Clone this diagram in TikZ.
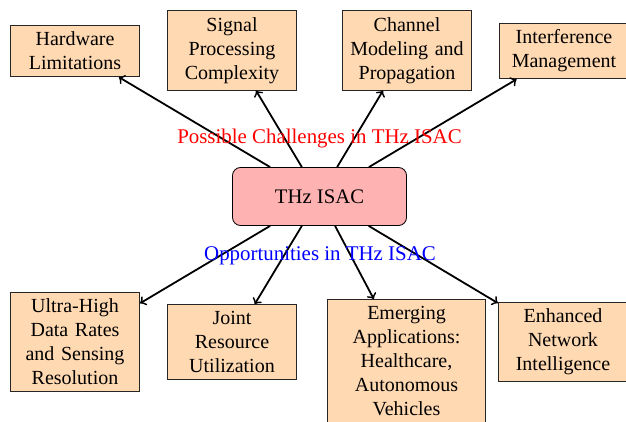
\documentclass[tikz,border=0pt]{standalone}
\usepackage{fontspec}
\setmainfont{Liberation Serif}
\begin{document}
\begin{tikzpicture}[x=0.5pt,y=-0.5pt,
  box/.style={draw=black!85, fill=orange!30, text width=58pt, align=center, font=\fontsize{10}{12}\selectfont},
  hub/.style={draw, fill=red!30, rounded corners=4pt, minimum width=87pt, minimum height=29pt, align=center, font=\fontsize{10.35}{12}\selectfont},
  link/.style={->, line width=0.9pt},
  lbl/.style={font=\fontsize{10.45}{12.5}\selectfont}]
\useasboundingbox (0,0) rectangle (626,422);
\node[hub] (c) at (319.5,196.5) {THz ISAC};
\node[box] (hw) at (75,51) {Hardware Limitations};
\node[box] (sp) at (232,50.5) {Signal Processing Complexity};
\node[box] (ch) at (407,50.5) {Channel Modeling and Propagation};
\node[box] (im) at (564,51) {Interference Management};
\node[box] (uh) at (75,342) {Ultra-High Data Rates and Sensing Resolution};
\node[box] (jr) at (232,342) {Joint Resource Utilization};
\node[box, text width=72.5pt] (em) at (406.5,361) {Emerging Applications: Healthcare, Autonomous Vehicles};
\node[box] (en) at (563,342) {Enhanced Network Intelligence};
\foreach \t in {hw,sp,ch,im,uh,jr,em,en} \draw[link] (c) -- (\t);
\node[lbl, text=red] (pc) at (319.5,139) {Possible Challenges in THz ISAC};
\node[lbl, text=blue] (op) at (320,256) {Opportunities in THz ISAC};
\end{tikzpicture}
\end{document}
